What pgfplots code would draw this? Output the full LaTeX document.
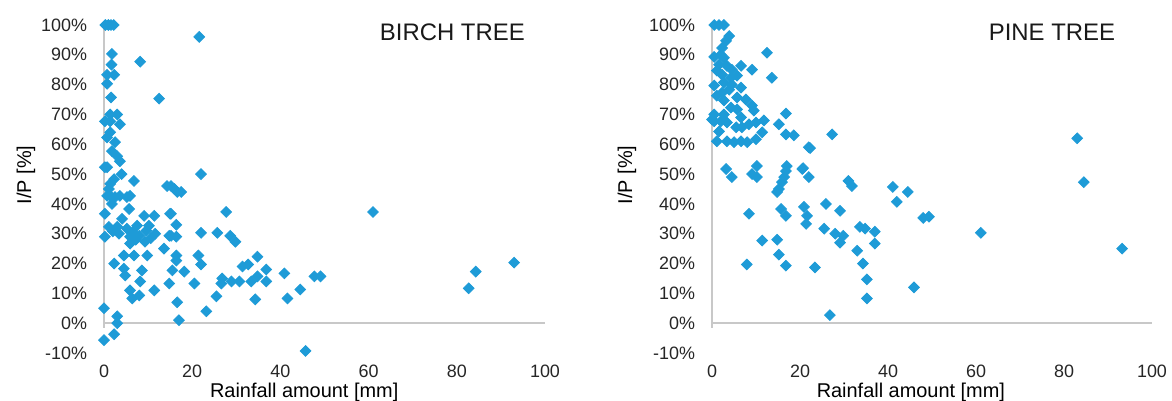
\documentclass[border=0pt]{standalone}
\usepackage{fontspec}
\setmainfont{Liberation Sans}
\usepackage{pgfplots}
\pgfplotsset{compat=1.18}
\definecolor{mk}{RGB}{30,155,215}
\definecolor{ax}{RGB}{200,200,200}
\pgfplotsset{
  panel/.style={
    scale only axis, height=164bp,
    xmin=0, xmax=100, ymin=-10, ymax=100,
    clip=false,
    axis line style={draw=none},
    major tick length=0pt,
    xtick={0,20,40,60,80,100},
    xticklabels={0,20,40,60,80,100},
    ytick={-10,0,10,20,30,40,50,60,70,80,90,100},
    yticklabels={-10\%,0\%,10\%,20\%,30\%,40\%,50\%,60\%,70\%,80\%,90\%,100\%},
    every tick label/.append style={font=\fontsize{9}{10}\selectfont, text=black!85},
    yticklabel style={xshift=-5bp},
    xticklabel style={yshift=-2.5bp},
    label style={font=\fontsize{8.5}{10}\selectfont, text=black!85},
    ylabel={I/P [\%]},
    xlabel={Rainfall amount [mm]},
  },
  pts/.style={only marks, mark=square*, mark size=1.9bp, color=mk, mark options={rotate=45, draw=mk, fill=mk}},
}
\pgfplotstableread{
x y
0.3 100
1 100
1.6 100
2.2 100
21.6 96
1.8 90.3
8.2 87.7
1.7 86.7
0.7 83.3
2.3 83.3
0.7 80.3
1.6 75.7
12.5 75.3
1.4 70
3 70
0.2 67.7
1.4 67.7
3.6 66.7
1.4 64
0.7 62.3
2.5 60.7
1.8 57.7
3 56
3.6 54.3
0.2 52.3
0.7 52.3
4 50
6.8 47.7
2.3 48.3
1.4 46.7
1.1 45
14.3 46
16 45
1.4 42.7
3.6 42.7
5.9 42.7
0.7 42.7
2.5 42.3
5.2 42.3
1.8 40
5.7 38.3
0.2 36.7
4.1 35
9.1 36
11.4 36
15 36.7
1.1 32.3
3 32.3
5.2 31.7
7.5 32.7
10.2 32.7
0.2 29
3.4 30
5.9 29
8 29.3
11.6 30
14.8 29.3
5.9 26.7
9.3 27.3
13.6 25
4.5 22.7
6.8 22.7
9.8 22.7
2.3 20
4.5 18.3
8.6 17.7
4.8 16
8.2 14
14.8 13.3
5.9 11
11.4 11
8 9.3
6.4 8.3
0 5
3 2.3
3 0
2.3 -3.7
0 -5.7
22 50
15.2 46
16.6 44
17.5 44
15.2 36.7
27.7 37.3
16.4 33
22 30.3
25.7 30.3
15.2 29.3
16.4 29
28.6 29.3
29.8 27.3
16.4 22.7
16.4 21
21.4 22.7
22 19.7
34.8 22.3
15.5 17.7
18.2 17.3
31.4 19
32.7 19.7
36.8 18
20.5 13.3
26.8 15
26.6 13.3
28.9 14
30.7 14
33.4 14
34.8 15.7
36.8 14
25.5 9
34.3 8
16.6 7
23.2 4
17 1
61 37.3
40.9 16.7
47.7 15.7
49.1 15.7
44.5 11.3
41.6 8.3
82.7 11.7
84.3 17.3
93 20.3
45.7 -9.3
6.5 30.5
9.6 31
7.2 28
10.6 28.5
2 30.8
}\birch
\pgfplotstableread{
x y
0.5 100
1.6 100
2.7 100
3.9 96.3
3.2 94.7
2.3 92.3
12.5 90.7
2 90
0.5 89.3
2.7 89
1.6 86.7
3.4 86.3
4.5 85
6.6 86.3
1.1 84.7
2.3 83.3
9.1 85
4.3 82.3
5.7 83
13.6 82.3
2.7 80.7
4.5 80
0.5 79.7
3.9 78.3
6.6 79
2.3 77.3
1.1 76.3
5.7 75.7
7.7 75
2.7 74.7
9.1 73
4.3 72.3
5.7 71.7
0.5 70
2.7 70
6.6 69
9.5 71.3
11.8 68
0 68.3
0.5 67.7
2 67.7
3.4 67.3
5.5 65.7
6.8 65.7
8.4 66.7
10 67.3
15.2 66.7
1.6 64.3
11.4 64
16.8 63.3
18.6 63
1.1 61
3.4 61
5 60.7
6.6 61
8 60.7
10 61.7
22 59
3.2 51.7
4.5 49
10.2 52.7
9.1 50
10.2 49
17 52.7
16.8 51
16.4 49
15.9 47.3
15.2 45
14.8 44
20.5 51.7
22 49
8.4 36.7
15.7 38.3
16.8 36
20.9 39
21.6 36
21.4 33.3
11.4 27.7
14.8 28
15.2 23
7.9 19.7
16.8 19.3
23.4 18.7
25.9 40
25.5 31.7
28 30
26.8 2.7
27.3 63.3
31 47.7
31.8 46
41.1 45.7
44.5 44
42 40.7
29.1 37.7
48 35.3
49.3 35.7
33.6 32.3
34.8 31.7
37 30.7
29.8 29.3
29.1 27
37 26.7
33 24.3
34.3 20
35.2 14.7
35.2 8.3
45.9 12
61.1 30.3
83 62
84.5 47.3
93.2 25
16.8 70.3
22.3 58.7
20.7 52
}\pine
\begin{document}
\begin{tikzpicture}
\path[use as bounding box] (0,0) rectangle (586bp,200.5bp);
\begin{axis}[panel, width=220.5bp, at={(52bp,24bp)}, anchor=south west,
  every axis y label/.style={at={(axis description cs:-0.177,0.543)}, rotate=90, anchor=center},
  every axis x label/.style={at={(axis description cs:0.454,-0.121)}, anchor=center}]
\draw[ax, line width=0.7bp] (axis cs:0,0) -- (axis cs:100,0);
\draw[ax, line width=0.7bp] (axis cs:0,-1.5) -- (axis cs:0,101);
\addplot[pts] table[x=x,y=y] {\birch};
\node[anchor=east, font=\fontsize{12}{14}\selectfont, text=black!90] at (axis cs:97,97.5) {BIRCH TREE};
\end{axis}
\begin{axis}[panel, width=220bp, at={(356bp,24bp)}, anchor=south west,
  every axis y label/.style={at={(axis description cs:-0.193,0.543)}, rotate=90, anchor=center},
  every axis x label/.style={at={(axis description cs:0.452,-0.121)}, anchor=center}]
\draw[ax, line width=0.7bp] (axis cs:0,0) -- (axis cs:100,0);
\draw[ax, line width=0.7bp] (axis cs:0,-1.5) -- (axis cs:0,101);
\addplot[pts] table[x=x,y=y] {\pine};
\node[anchor=east, font=\fontsize{12}{14}\selectfont, text=black!90] at (axis cs:93.2,97.5) {PINE TREE};
\end{axis}
\end{tikzpicture}
\end{document}
